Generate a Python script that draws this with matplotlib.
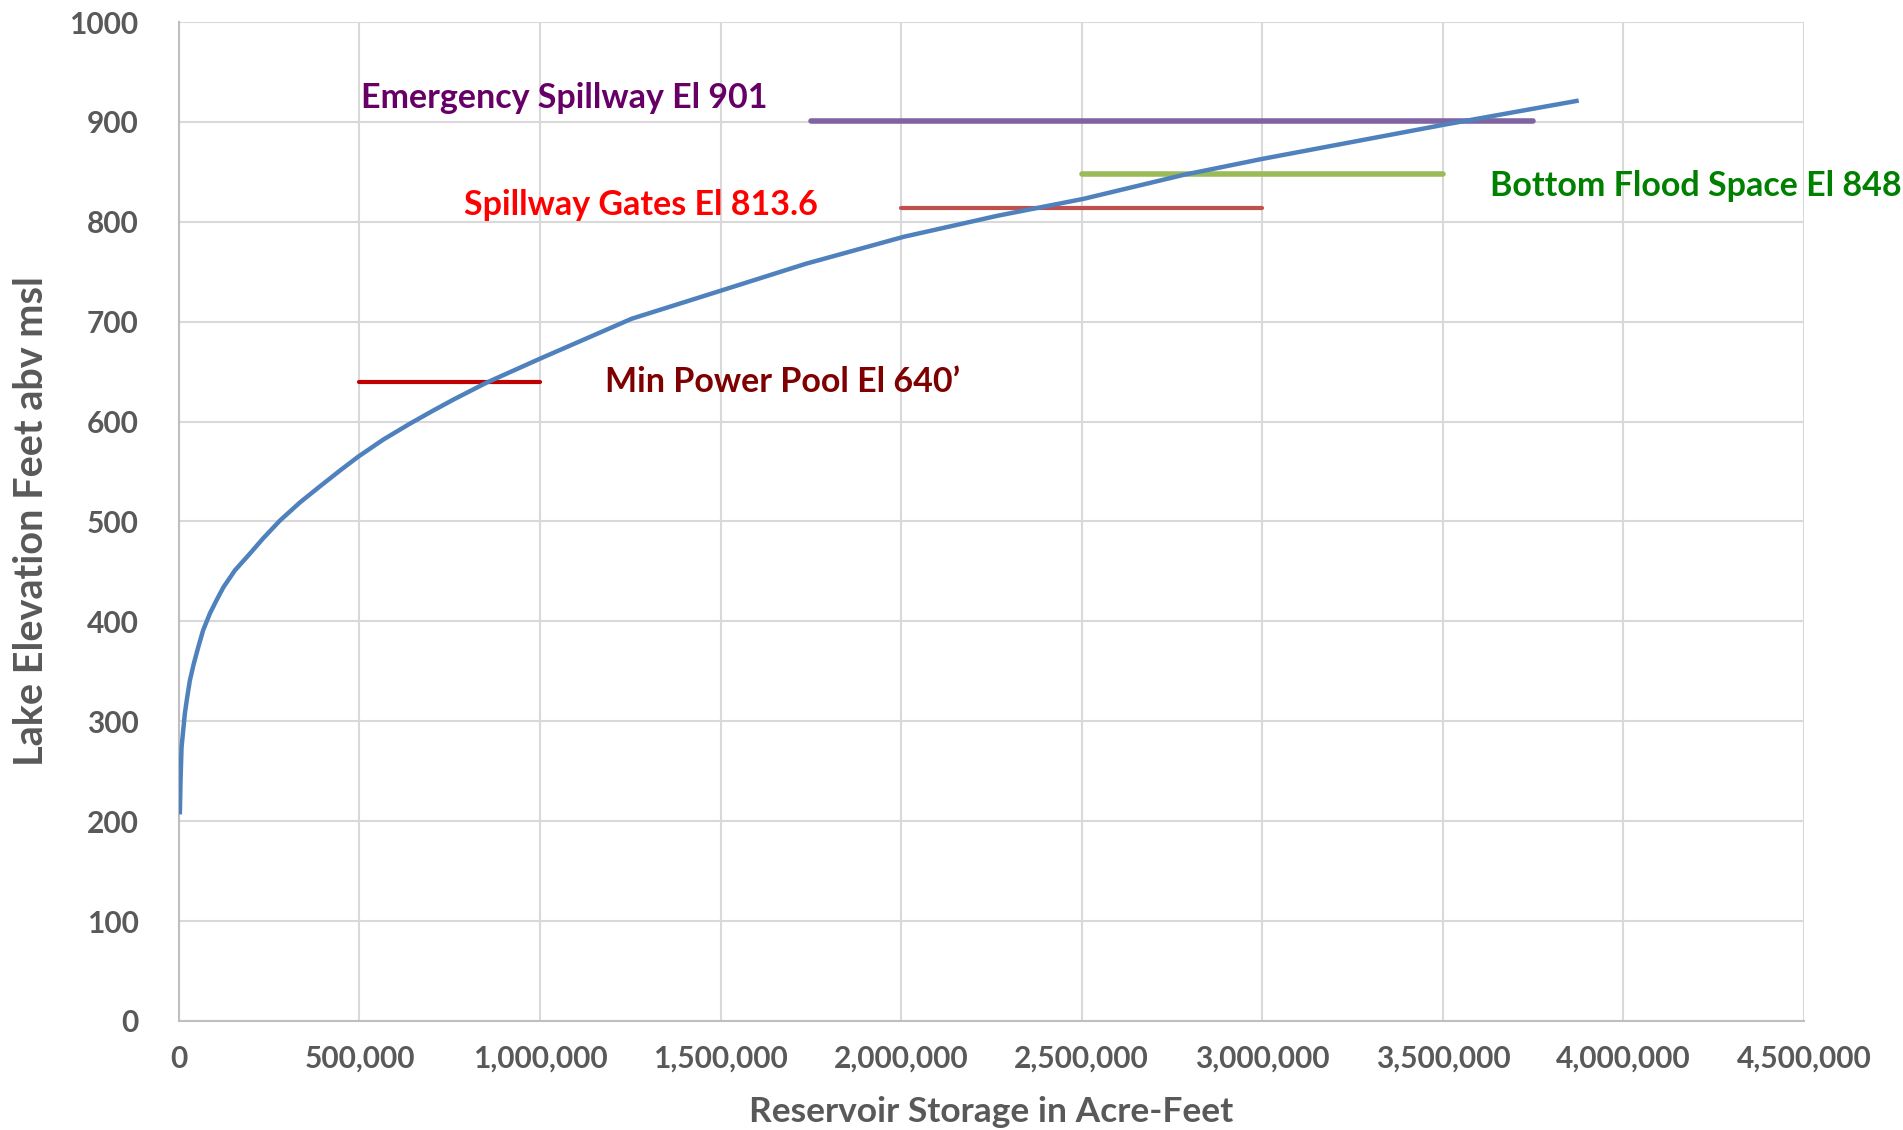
import matplotlib.pyplot as plt
from matplotlib.ticker import FuncFormatter

plt.rcParams['font.family'] = ['Lato', 'DejaVu Sans']
plt.rcParams['font.weight'] = 'bold'

# elevation-storage curve
storage = [2.8e3, 4.6e3, 7.4e3, 12e3, 16.6e3, 23e3, 30.5e3, 41.5e3, 53.5e3, 67e3,
           86e3, 104e3, 123e3, 155e3, 197e3, 233e3, 280e3, 335e3, 390e3, 446e3,
           497e3, 566e3, 640e3, 704e3, 760e3, 852e3, 1000e3, 1254e3, 1500e3,
           1736e3, 2007e3, 2266e3, 2505e3, 2782e3, 3000e3, 3500e3, 3870e3]
elevation = [209, 241, 274, 291, 308, 324, 341, 358, 374, 391,
             408, 421, 434, 451, 468, 483, 501, 519, 535, 551,
             565, 582, 598, 611, 622, 639, 663, 703, 731,
             758, 785, 806, 823, 847, 863, 897, 921]

# reference levels: label, elevation, storage span
levels = ['Emergency Spillway El 901', 'Bottom Flood Space El 848',
          'Spillway Gates El 813.6', 'Min Power Pool El 640\u2019']
level_elev = [901, 848, 813.6, 640]
level_start = [1.75e6, 2.5e6, 2.0e6, 0.5e6]
level_end = [3.75e6, 3.5e6, 3.0e6, 1.0e6]
line_colors = ['#8064A2', '#9BBB59', '#C0504D', '#C00000']
line_widths = [4, 4, 3, 3]
text_colors = ['#660066', '#008000', '#FF0000', '#7F0000']
text_x = [0.505e6, 3.63e6, 0.79e6, 1.18e6]
text_y = [924, 836, 817, 640]

fig = plt.figure(figsize=(19.03, 11.3), dpi=100)
ax = fig.add_axes([0.094, 0.0965, 0.854, 0.884])

ax.plot(storage, elevation, color='#4F81BD', lw=3.2, zorder=3)
for i in range(len(levels)):
    ax.plot([level_start[i], level_end[i]], [level_elev[i]] * 2,
            color=line_colors[i], lw=line_widths[i], solid_capstyle='round', zorder=2)
    ax.text(text_x[i], text_y[i], levels[i], color=text_colors[i], fontsize=24.5,
            fontweight='bold', va='center', ha='left', clip_on=False)

ax.set_xlim(0, 4.5e6)
ax.set_ylim(0, 1000)
ax.set_xticks(range(0, 4500001, 500000))
ax.set_yticks(range(0, 1001, 100))
ax.xaxis.set_major_formatter(FuncFormatter(lambda v, p: f'{int(v):,}'))
ax.grid(True, color='#D9D9D9', lw=1.5)
ax.set_axisbelow(True)
for s in ['top', 'right']:
    ax.spines[s].set_visible(False)
for s in ['left', 'bottom']:
    ax.spines[s].set_color('#BFBFBF')
    ax.spines[s].set_linewidth(1.5)
ax.tick_params(length=0, labelsize=21.5, labelcolor='#595959')
ax.tick_params(axis='x', pad=17)
ax.tick_params(axis='y', pad=29)
for lab in ax.get_xticklabels() + ax.get_yticklabels():
    lab.set_fontweight('bold')

ax.set_xlabel('Reservoir Storage in Acre-Feet', fontsize=25.5, fontweight='bold',
              color='#595959', labelpad=17)
ax.set_ylabel('Lake Elevation Feet abv msl', fontsize=28.5, fontweight='bold',
              color='#595959', labelpad=14)

fig.savefig('out.png', dpi=100)
